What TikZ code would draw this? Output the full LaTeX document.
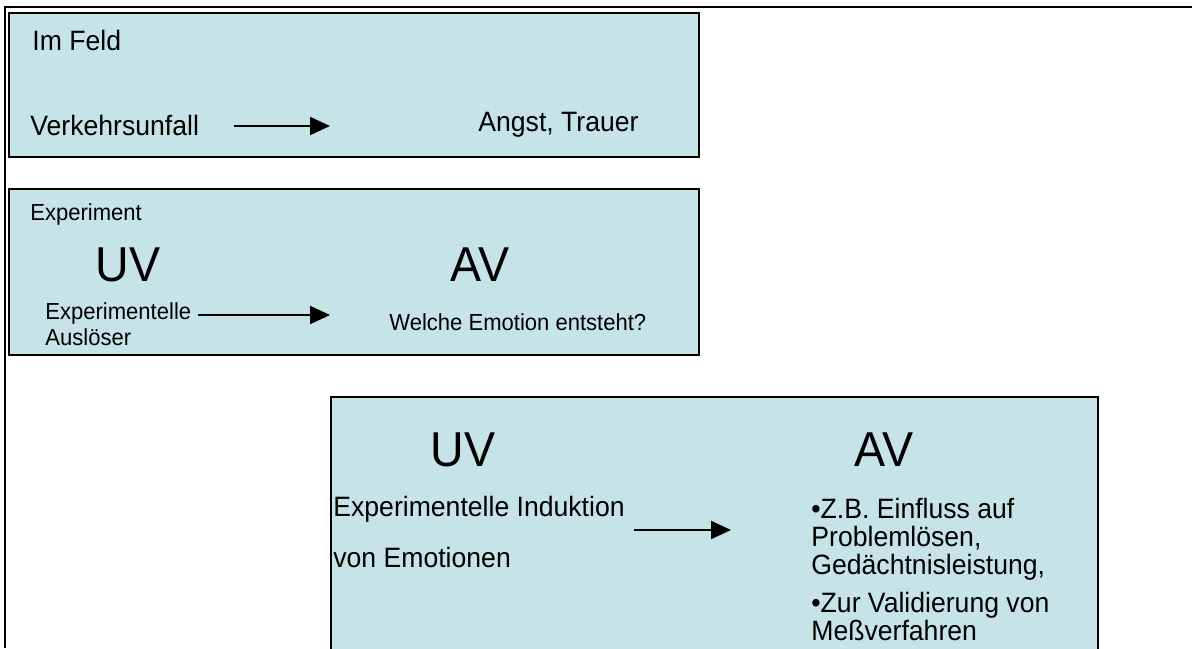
\documentclass[tikz,border=0pt]{standalone}
\usepackage{fontspec}
\setmainfont{Liberation Sans}[FakeStretch=0.95]
\usetikzlibrary{arrows.meta}
\definecolor{boxfill}{RGB}{198,228,231}
\tikzset{
  panel/.style={draw=black, line width=1pt, fill=boxfill},
  txt/.style={anchor=west, inner sep=0pt, align=left, font=\fontsize{14}{14}\selectfont},
  note/.style={anchor=west, inner sep=0pt, align=left, font=\fontsize{11.6}{13}\selectfont},
  big/.style={anchor=west, inner sep=0pt, font=\fontsize{24.5}{28}\selectfont},
  flow/.style={line width=1pt, -{Triangle[length=10pt,width=9pt]}}
}
\begin{document}
\begin{tikzpicture}[x=0.5pt,y=-0.5pt]
    \useasboundingbox (0,0) rectangle (1192,648);
    % outer frame
    \draw[line width=1pt] (1192,7) -- (5,7) -- (5,648);

    % Panel: Im Feld
    \draw[panel] (9,13) rectangle (699,157);
    \node[txt] (feld) at (32,40) {Im Feld};
    \node[txt] (unfall) at (30,125) {Verkehrsunfall};
    \node[txt] (angst) at (478,125) {Angst, Trauer};
    \coordinate (feldA) at (234,126);
    \coordinate (feldB) at (330,126);
    \draw[flow] (feldA) -- (feldB);

    % Panel: Experiment
    \draw[panel] (9,189) rectangle (699,355);
    \node[note] (exp) at (30,214) {Experiment};
    \node[big] (uvA) at (95,265) {UV};
    \node[big] (avA) at (450,265) {AV};
    \node[note] (ausl) at (45,324) {Experimentelle\\Auslöser};
    \node[note] (welche) at (389,322) {Welche Emotion entsteht?};
    \coordinate (expA) at (198,315);
    \coordinate (expB) at (330,315);
    \draw[flow] (expA) -- (expB);

    % Panel: Induktion
    \draw[panel] (331,397) rectangle (1098,660);
    \node[big] (uvB) at (430,450) {UV};
    \node[big] (avB) at (854,450) {AV};
    \node[txt] (induk) at (333,509) {Experimentelle Induktion};
    \node[txt] (emo) at (333,557) {von Emotionen};
    \node[txt] (zb) at (811,539) {•Z.B. Einfluss auf\\Problemlösen,\\Gedächtnisleistung,};
    \node[txt] (valid) at (811,616) {•Zur Validierung von\\Meßverfahren};
    \coordinate (indA) at (634,530);
    \coordinate (indB) at (731,530);
    \draw[flow] (indA) -- (indB);
\end{tikzpicture}
\end{document}
